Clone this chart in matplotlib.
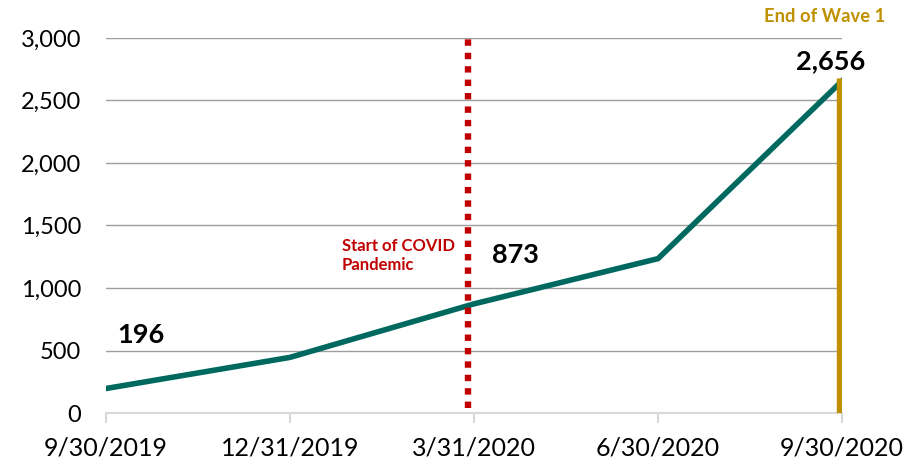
import matplotlib.pyplot as plt

# datos
dates = ['9/30/2019', '12/31/2019', '3/31/2020', '6/30/2020', '9/30/2020']
values = [196, 445, 873, 1235, 2656]
yticks = [0, 500, 1000, 1500, 2000, 2500, 3000]

# etiquetas de datos: indice -> desplazamiento en pixeles
labels = {0: (35, 54), 2: (41, 49), 4: (-11, 20)}

covid_x = 1.97      # posicion de la linea "Start of COVID"
wave_x = 3.985      # fin de la ola 1
wave_top = 2680

teal = '#00695F'
red = '#C00000'
gold = '#BF9000'

plt.rcParams['font.family'] = ['Lato', 'DejaVu Sans']

fig = plt.figure(figsize=(9.13, 4.61), dpi=100)
ax = fig.add_axes([106 / 913, 48 / 461, 736 / 913, 375 / 461])

xs = list(range(len(dates)))
ax.plot(xs, values, color=teal, lw=4.0, solid_joinstyle='miter', zorder=3)

ax.plot([covid_x, covid_x], [40, 3000], color=red, lw=4.6,
        dashes=(1.0, 1.1), zorder=4)
ax.plot([wave_x, wave_x], [0, wave_top], color=gold, lw=3.9, zorder=4,
        solid_capstyle='butt')

for i, off in labels.items():
    ax.annotate(f'{values[i]:,}', xy=(xs[i], values[i]), xytext=off,
                textcoords='offset pixels', ha='center', va='center',
                fontsize=19.5, fontweight='bold', color='black', zorder=5)

ax.text(0.3207, 0.42, 'Start of COVID\nPandemic', transform=ax.transAxes,
        ha='left', va='center', fontsize=12, fontweight='bold',
        color=red, linespacing=1.25)
ax.text(0.976, 1.056, 'End of Wave 1', transform=ax.transAxes,
        ha='center', va='center', fontsize=13.2, fontweight='bold',
        color=gold, clip_on=False)

ax.set_xlim(0, 4)
ax.set_ylim(0, 3000)
ax.set_xticks(xs)
ax.set_xticklabels(dates)
ax.set_yticks(yticks)
ax.set_yticklabels([f'{v:,}' for v in yticks])

ax.yaxis.grid(True, color='#9E9E9E', lw=1.0)
ax.set_axisbelow(True)
for s in ['left', 'top', 'right']:
    ax.spines[s].set_visible(False)
ax.spines['bottom'].set_color('#D9D9D9')
ax.spines['bottom'].set_linewidth(1.5)

ax.tick_params(axis='y', length=0, pad=18, labelsize=17)
ax.tick_params(axis='x', length=7, width=1.5, color='#D9D9D9',
               pad=10, labelsize=18)

fig.savefig('out.png', dpi=100)
